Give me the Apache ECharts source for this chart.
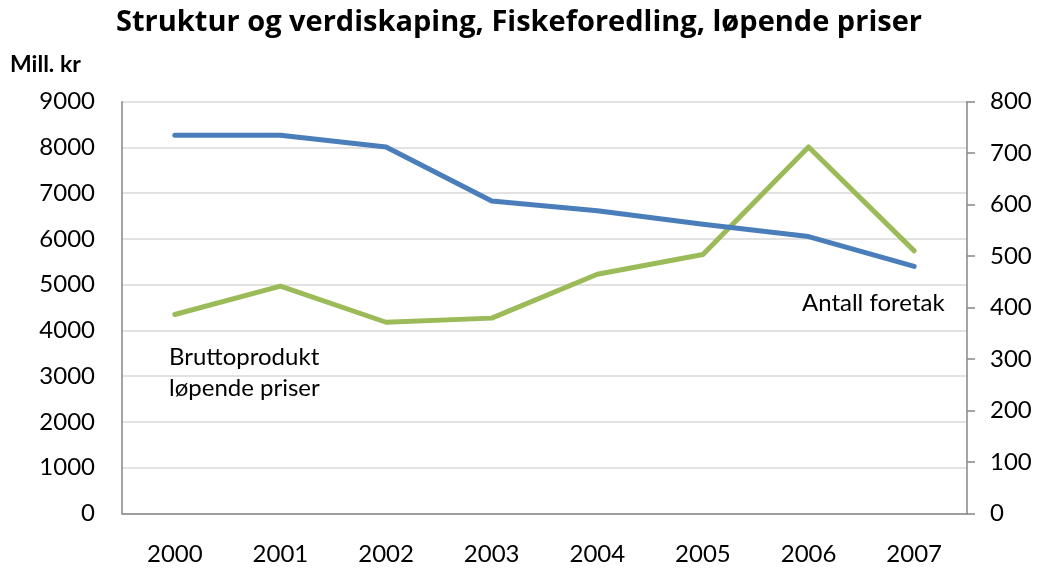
<!DOCTYPE html>
<html><head><meta charset="utf-8">
<script src="https://cdn.jsdelivr.net/npm/echarts@6/dist/echarts.min.js"></script>
<style>html,body{margin:0;padding:0;background:#fff}#c{width:1038px;height:573px}</style>
</head><body><div id="c"></div>
<script>
const categories = ['2000','2001','2002','2003','2004','2005','2006','2007'];
const bruttoprodukt = [4350, 4970, 4180, 4270, 5230, 5660, 8010, 5740];
const antallForetak = [735, 735, 712, 607, 588, 562, 538, 480];
const leftTicks = {min: 0, max: 9000, interval: 1000};
const rightTicks = {min: 0, max: 800, interval: 100};

const FONT = 'Lato, "Open Sans", sans-serif';
const chart = echarts.init(document.getElementById('c'));
chart.setOption({
  animation: false,
  title: {
    text: 'Struktur og verdiskaping, Fiskeforedling, løpende priser',
    left: 'center', top: 3,
    textStyle: {fontFamily: '"Open Sans", sans-serif', fontWeight: 'bold', fontSize: 29, color: '#000'}
  },
  grid: {left: 122, right: 71, top: 101.7, bottom: 59.5, containLabel: false},
  xAxis: {
    type: 'category', data: categories, boundaryGap: true,
    axisLine: {lineStyle: {color: '#868686', width: 1.5}},
    axisTick: {show: false},
    axisLabel: {margin: 29, fontFamily: FONT, fontSize: 24, color: '#000'}
  },
  yAxis: [
    {
      type: 'value', position: 'left', ...leftTicks,
      axisLine: {show: true, lineStyle: {color: '#868686', width: 1.5}},
      axisTick: {show: false},
      splitLine: {lineStyle: {color: '#d9d9d9', width: 1.5}},
      axisLabel: {margin: 27, fontFamily: FONT, fontSize: 24, color: '#000', formatter: v => String(v)}
    },
    {
      type: 'value', position: 'right', ...rightTicks,
      axisLine: {show: true, lineStyle: {color: '#868686', width: 1.5}},
      axisTick: {show: true, length: 8, lineStyle: {color: '#868686', width: 1.5}},
      splitLine: {show: false},
      axisLabel: {margin: 23, fontFamily: FONT, fontSize: 24, color: '#000', formatter: v => String(v)}
    }
  ],
  series: [
    {
      name: 'Bruttoprodukt løpende priser', type: 'line', yAxisIndex: 0,
      data: bruttoprodukt, symbol: 'none',
      lineStyle: {color: '#9bbb59', width: 5, cap: 'round', join: 'round'}
    },
    {
      name: 'Antall foretak', type: 'line', yAxisIndex: 1,
      data: antallForetak, symbol: 'none',
      lineStyle: {color: '#4a7ebb', width: 5, cap: 'round', join: 'round'}
    }
  ],
  graphic: [
    {type: 'text', left: 10, top: 52, style: {text: 'Mill. kr', fontFamily: FONT, fontWeight: 'bold', fontSize: 23, lineHeight: 26, fill: '#000'}},
    {type: 'text', left: 169, top: 341.5, style: {text: 'Bruttoprodukt\nløpende priser', fontFamily: FONT, fontSize: 24, lineHeight: 31, fill: '#000'}},
    {type: 'text', left: 802, top: 287.5, style: {text: 'Antall foretak', fontFamily: FONT, fontSize: 24, lineHeight: 31, fill: '#000'}}
  ]
});
</script></body></html>
